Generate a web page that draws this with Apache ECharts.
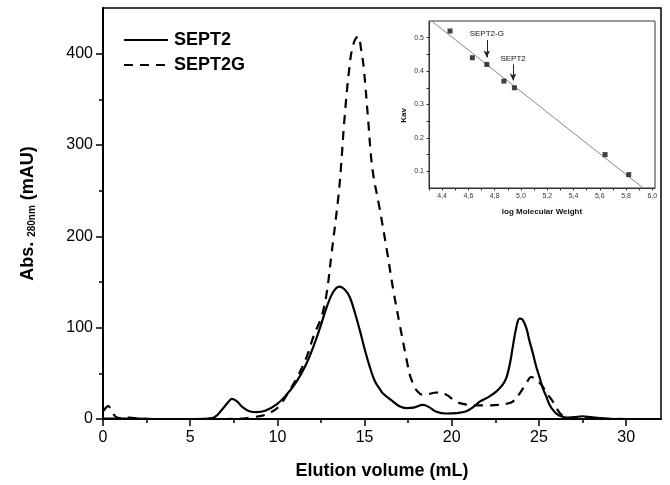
<!DOCTYPE html>
<html>
<head>
<meta charset="utf-8">
<script src="https://cdn.jsdelivr.net/npm/echarts@6/dist/echarts.min.js"></script>
<style>
html,body{margin:0;padding:0;background:#fff;}
#c{width:670px;height:485px;}
</style>
</head>
<body>
<div id="c"></div>
<script>
// ---- main chromatogram data (elution volume mL, absorbance mAU) ----
const sept2X = [0,1,2,3,4,5,6,6.4,6.9,7.2,7.4,7.7,8.0,8.4,8.8,9.3,9.96,10.5,11.1,11.6,12.06,12.5,12.82,13.2,13.55,13.9,14.16,14.45,14.73,15.0,15.3,15.6,15.87,16.06,16.64,17.0,17.4,17.8,18.35,18.7,19.12,19.69,20.3,20.83,21.3,21.6,22.1,22.55,22.9,23.13,23.35,23.5,23.7,23.89,24.05,24.27,24.45,24.65,24.85,25.03,25.2,25.41,25.6,25.8,26.0,26.27,26.6,27.0,27.5,28.0,28.5,29,30,31,31.8];
const sept2Y = [0.5,0.5,0.5,0,0,0,0.5,2,12,19,22,19,13,8.5,7.5,9,16,26,41,58,79,103,122,139,145,141,133,116,97,77,57,41,33,28,19,14,12,12.5,15.5,13,8,6,6.5,8.5,14,19,24,30,37,45,62,79,100,110,109,100,86,72,57,46,35,25,16,10,6,3,1.5,2,3,2,1,0.3,0,0,0];

const sept2gX = [0.05,0.3,0.5,0.7,1.0,1.5,2,3,4,5,6,7,8,8.6,9.2,9.6,10.1,10.72,11.2,11.68,12.1,12.53,12.82,13.1,13.49,13.64,13.85,14.12,14.35,14.63,14.8,14.96,15.2,15.45,15.85,16.26,16.64,17.02,17.4,17.6,17.78,18.0,18.35,18.7,19.12,19.69,20.1,20.45,21.0,21.4,22.1,22.74,23.2,23.5,23.9,24.27,24.56,24.8,25.02,25.22,25.5,25.8,26.0,26.27,26.6,27,27.6,28.2,29,30,31.8];
const sept2gY = [9,14,9,3,1,1.5,0.5,0,0,0,0,0,0.5,2,4,7,14,32,48,68,92,112,137,180,242,274,329,383,410,419,405,383,329,274,232,187,142,103,66,48,39,31,26.5,27.5,29,26.5,21,17.4,15.5,15,15,15.5,17,19,28,39,46,44,40,35.5,27,19,12,5,1.5,1,2,1,0.3,0,0];

const seriesNames = ['SEPT2','SEPT2G'];
const xTickLabels = [0,5,10,15,20,25,30];
const xMinorTicks = [2.5,7.5,12.5,17.5,22.5,27.5];
const yTickLabels = [0,100,200,300,400];
const yMinorTicks = [50,150,250,350];

// ---- inset calibration data (log MW, Kav) ----
const calLogMW = [4.46,4.63,4.74,4.87,4.95,5.64,5.82];
const calKav   = [0.52,0.44,0.42,0.37,0.35,0.15,0.09];
const fitLogMW = [4.32,5.93];
const fitKav   = [0.55,0.05];
const annoNames = ['SEPT2-G','SEPT2'];
const annoLogMW = [4.74,4.94];
const annoKavTop = [0.493,0.42];
const annoKavEnd = [0.441,0.372];
const insetXLabels = [4.4,4.6,4.8,5.0,5.2,5.4,5.6,5.8,6.0];
const insetXTicks = [4.3,4.4,4.5,4.6,4.7,4.8,4.9,5.0,5.1,5.2,5.3,5.4,5.5,5.6,5.7,5.8,5.9,6.0];
const insetYLabels = [0.1,0.2,0.3,0.4,0.5];
const insetYTicks = [0.1,0.15,0.2,0.25,0.3,0.35,0.4,0.45,0.5];

const zip = (a,b) => a.map((v,i)=>[v,b[i]]);
const FONT = '"Liberation Sans", Arial, sans-serif';

const chart = echarts.init(document.getElementById('c'), null, {renderer:'canvas'});
chart.setOption({
  animation:false,
  backgroundColor:'#fff',
  textStyle:{fontFamily:FONT},
  grid:[
    {left:103, top:8, width:558, height:415, show:true, borderColor:'#000', borderWidth:1.5, backgroundColor:'transparent'},
    {left:429, top:21, width:226, height:167, show:true, borderColor:'#333', borderWidth:1, backgroundColor:'#fff'}
  ],
  legend:{
    orient:'vertical', left:123, top:31, padding:0, itemWidth:44, itemHeight:14, itemGap:7,
    data:seriesNames,
    itemStyle:{opacity:0},
    textStyle:{fontFamily:FONT, fontSize:18, fontWeight:'bold', color:'#000', padding:[0,0,0,1]}
  },
  xAxis:[
    {type:'value', gridIndex:0, min:0, max:32,
     name:'Elution volume (mL)', nameLocation:'middle', nameGap:43,
     nameTextStyle:{fontFamily:FONT, fontSize:18, fontWeight:'bold', color:'#000'},
     axisLine:{show:true, onZero:false, lineStyle:{color:'#000', width:2}},
     axisTick:{show:true, inside:false, length:7, lineStyle:{color:'#000', width:1.5}, customValues:xTickLabels},
     axisLabel:{fontFamily:FONT, fontSize:16, color:'#000', margin:11, customValues:xTickLabels},
     splitLine:{show:false}},
    {type:'value', gridIndex:0, min:0, max:32, position:'bottom',
     axisLine:{show:false},
     axisTick:{show:true, inside:false, length:4, lineStyle:{color:'#000', width:1.5}, customValues:xMinorTicks},
     axisLabel:{show:false}, splitLine:{show:false}},
    {type:'value', gridIndex:1, min:4.3, max:6.02,
     name:'log Molecular Weight', nameLocation:'middle', nameGap:20,
     nameTextStyle:{fontFamily:FONT, fontSize:8, fontWeight:'bold', color:'#111'},
     axisLine:{show:true, onZero:false, lineStyle:{color:'#333', width:1}},
     axisTick:{show:true, inside:false, length:2.5, lineStyle:{color:'#333'}, customValues:insetXTicks},
     axisLabel:{fontFamily:FONT, fontSize:7, color:'#333', margin:5, customValues:insetXLabels,
       formatter:v=>v.toFixed(1).replace('.',',')},
     splitLine:{show:false}}
  ],
  yAxis:[
    {type:'value', gridIndex:0, min:0, max:450,
     name:'Abs. {s|280nm} (mAU)', nameLocation:'middle', nameGap:66,
     nameTextStyle:{fontFamily:FONT, fontSize:18, fontWeight:'bold', color:'#000',
       rich:{s:{fontFamily:FONT, fontSize:10, fontWeight:'bold', color:'#000', verticalAlign:'bottom', padding:[8,0,0,0]}}},
     axisLine:{show:true, onZero:false, lineStyle:{color:'#000', width:2}},
     axisTick:{show:true, inside:false, length:7, lineStyle:{color:'#000', width:1.5}, customValues:yTickLabels},
     axisLabel:{fontFamily:FONT, fontSize:16, color:'#000', margin:10, customValues:yTickLabels},
     splitLine:{show:false}},
    {type:'value', gridIndex:0, min:0, max:450, position:'left',
     axisLine:{show:false},
     axisTick:{show:true, inside:false, length:4, lineStyle:{color:'#000', width:1.5}, customValues:yMinorTicks},
     axisLabel:{show:false}, splitLine:{show:false}},
    {type:'value', gridIndex:1, min:0.05, max:0.55,
     axisLine:{show:true, onZero:false, lineStyle:{color:'#333', width:1}},
     axisTick:{show:true, inside:false, length:2.5, lineStyle:{color:'#333'}, customValues:insetYTicks},
     axisLabel:{fontFamily:FONT, fontSize:7, color:'#333', margin:5, customValues:insetYLabels,
       formatter:v=>v.toFixed(1)},
     splitLine:{show:false}}
  ],
  graphic:[
    {type:'text', left:400, top:108, rotation:Math.PI/2,
     style:{text:'Kav', font:'bold 8px "Liberation Sans", Arial, sans-serif', fill:'#111'}}
  ],
  series:[
    {name:seriesNames[0], type:'line', xAxisIndex:0, yAxisIndex:0, data:zip(sept2X,sept2Y),
     showSymbol:false, symbol:'none', smooth:0.4, z:3,
     lineStyle:{color:'#000', width:2.2, type:'solid'}, itemStyle:{color:'#000'}},
    {name:seriesNames[1], type:'line', xAxisIndex:0, yAxisIndex:0, data:zip(sept2gX,sept2gY),
     showSymbol:false, symbol:'none', smooth:0.4, z:3,
     lineStyle:{color:'#000', width:2.2, type:[9,7]}, itemStyle:{color:'#000'}},
    {name:'fit', type:'line', xAxisIndex:2, yAxisIndex:2, data:zip(fitLogMW,fitKav),
     showSymbol:false, symbol:'none', lineStyle:{color:'#888', width:1}, z:5},
    {name:'cal', type:'scatter', xAxisIndex:2, yAxisIndex:2, data:zip(calLogMW,calKav),
     symbol:'rect', symbolSize:5, itemStyle:{color:'#111'}, z:6,
     markLine:{
       silent:true, symbol:['none','arrow'], symbolSize:[5,7],
       lineStyle:{color:'#222', width:1, type:'solid'},
       label:{show:true, position:'start', formatter:p=>p.name, fontFamily:FONT, fontSize:8, color:'#111', distance:2},
       data:annoNames.map((n,i)=>[
         {name:n, coord:[annoLogMW[i], annoKavTop[i]]},
         {coord:[annoLogMW[i], annoKavEnd[i]]}
       ])
     }}
  ]
});
</script>
</body>
</html>
